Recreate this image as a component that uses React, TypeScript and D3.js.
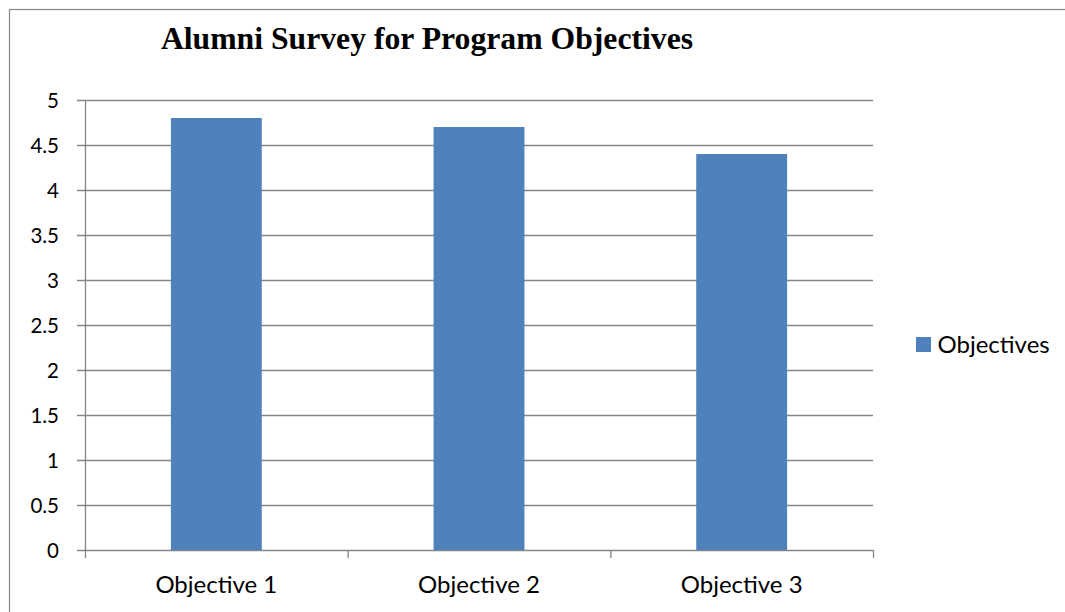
import React from "react";
import * as d3 from "d3";

const categories = ["Objective 1", "Objective 2", "Objective 3"];
const values = [4.8, 4.7, 4.4];
const yTicks = [0, 0.5, 1, 1.5, 2, 2.5, 3, 3.5, 4, 4.5, 5];
const seriesName = "Objectives";
const title = "Alumni Survey for Program Objectives";

const W = 1065;
const H = 612;
const plot = { left: 85, right: 873, top: 100, bottom: 550 };
const barColor = "#4F81BD";
const gridColor = "#868686";
const font = "Lato, 'Open Sans', sans-serif";

export default function App() {
  const x = d3
    .scaleBand<string>()
    .domain(categories)
    .range([plot.left, plot.right])
    .paddingInner(0.654)
    .paddingOuter(0.327);
  const xOuter = d3.scaleBand<string>().domain(categories).range([plot.left, plot.right]);
  const y = d3.scaleLinear().domain([0, 5]).range([plot.bottom, plot.top]);
  const fmt = (v: number) => d3.format("")(v);
  const boundaries = [...categories.map((c) => xOuter(c) as number), plot.right];

  return (
    <svg
      width={W}
      height={H}
      style={{ position: "absolute", left: 0, top: 0, background: "#fff" }}
    >
      <rect x={9.5} y={9.5} width={W + 20} height={H + 20} fill="#fff" stroke={gridColor} strokeWidth={1.2} />
      <text
        x={427}
        y={49}
        textAnchor="middle"
        fontFamily="'Liberation Serif', 'Times New Roman', serif"
        fontWeight="bold"
        fontSize={31.7}
        fill="#000"
      >
        {title}
      </text>
      {yTicks.map((t) => (
        <g key={t}>
          <line x1={plot.left - 8} x2={plot.right} y1={Math.round(y(t)) + 0.5} y2={Math.round(y(t)) + 0.5} stroke={gridColor} strokeWidth={1.3} />
          <text x={59} y={y(t) + 7.5} textAnchor="end" fontFamily={font} fontSize={20.5} fill="#000">
            {fmt(t)}
          </text>
        </g>
      ))}
      <line x1={plot.left + 0.5} x2={plot.left + 0.5} y1={plot.top} y2={plot.bottom + 8} stroke={gridColor} strokeWidth={1.3} />
      {boundaries.slice(1).map((b, i) => (
        <line key={i} x1={b + 0.5} x2={b + 0.5} y1={plot.bottom} y2={plot.bottom + 8} stroke={gridColor} strokeWidth={1.3} />
      ))}
      {categories.map((c, i) => (
        <rect
          key={c}
          x={x(c)}
          y={y(values[i])}
          width={x.bandwidth()}
          height={y(0) - y(values[i])}
          fill={barColor}
        />
      ))}
      {categories.map((c) => (
        <text
          key={c}
          x={(xOuter(c) as number) + xOuter.bandwidth() / 2}
          y={593}
          textAnchor="middle"
          fontFamily={font}
          fontSize={24}
          fill="#000"
        >
          {c}
        </text>
      ))}
      <rect x={916} y={337} width={15} height={15} fill={barColor} />
      <text x={937.5} y={352.5} fontFamily={font} fontSize={24} fill="#000">
        {seriesName}
      </text>
    </svg>
  );
}
